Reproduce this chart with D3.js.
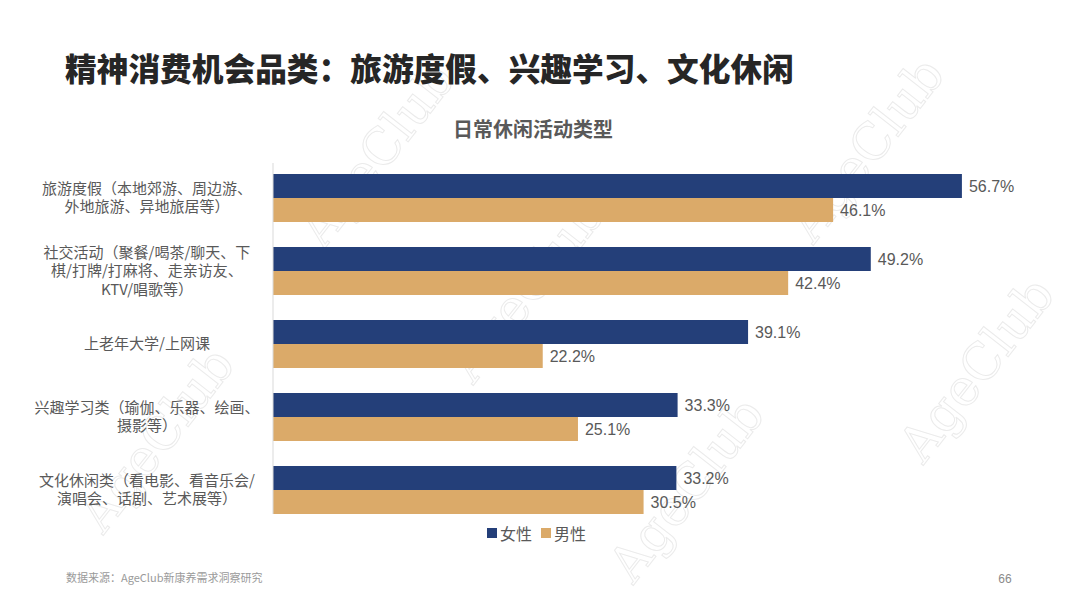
<!DOCTYPE html>
<html>
<head>
<meta charset="utf-8">
<script src="https://cdn.jsdelivr.net/npm/d3@7"></script>
<style>
  body { margin: 0; background: #fff; }
  text { font-family: "Noto Sans CJK SC", "Noto Sans", sans-serif; }
</style>
</head>
<body>
<div id="chart"></div>
<script>
// categories, two lines or three each
var categories = [
  ["旅游度假（本地郊游、周边游、", "外地旅游、异地旅居等）"],
  ["社交活动（聚餐/喝茶/聊天、下", "棋/打牌/打麻将、走亲访友、", "KTV/唱歌等）"],
  ["上老年大学/上网课"],
  ["兴趣学习类（瑜伽、乐器、绘画、", "摄影等）"],
  ["文化休闲类（看电影、看音乐会/", "演唱会、话剧、艺术展等）"]
];
var seriesNames = ["女性", "男性"];
var female = [56.7, 49.2, 39.1, 33.3, 33.2];
var male = [46.1, 42.4, 22.2, 25.1, 30.5];
var colors = ["#243f79", "#dbaa69"];

var width = 1080, height = 606;
var svg = d3.select("#chart").append("svg")
    .attr("width", width)
    .attr("height", height);

// watermark
var marks = [[390, 165], [540, 300], [700, 500], [880, 160], [990, 380], [170, 450]];
svg.append("g").selectAll("text")
    .data(marks).enter().append("text")
    .attr("transform", function(d){ return "translate(" + d[0] + "," + d[1] + ") rotate(-52)"; })
    .attr("text-anchor", "middle")
    .style("font-family", "'DejaVu Serif', serif")
    .style("font-size", "50px")
    .style("fill", "none")
    .style("stroke", "#ebebeb")
    .style("stroke-width", 1)
    .text("AgeClub");

// title
svg.append("text")
    .attr("x", 65).attr("y", 81)
    .style("font-size", "31.7px")
    .style("font-weight", 900)
    .style("fill", "#262626")
    .text("精神消费机会品类：旅游度假、兴趣学习、文化休闲");

svg.append("text")
    .attr("x", 533).attr("y", 137)
    .attr("text-anchor", "middle")
    .style("font-size", "20px")
    .style("font-weight", 700)
    .style("fill", "#595959")
    .text("日常休闲活动类型");

var x = d3.scaleLinear().domain([0, 100]).range([273, 273 + 1215]);
var y = d3.scaleBand().domain(d3.range(categories.length))
    .range([161.5, 526.5]).paddingInner(25 / 73).paddingOuter(12.5 / 73);
var sub = d3.scaleBand().domain([0, 1]).range([0, y.bandwidth()]);

var rows = categories.map(function(c, i){ return {i: i, vals: [female[i], male[i]]}; });

var g = svg.append("g");
var grp = g.selectAll(".grp").data(rows).enter().append("g")
    .attr("transform", function(d){ return "translate(0," + y(d.i) + ")"; });

grp.selectAll("rect").data(function(d){ return d.vals; }).enter().append("rect")
    .attr("x", x(0))
    .attr("y", function(d, j){ return sub(j); })
    .attr("width", function(d){ return x(d) - x(0); })
    .attr("height", sub.bandwidth())
    .style("fill", function(d, j){ return colors[j]; });

grp.selectAll(".val").data(function(d){ return d.vals; }).enter().append("text")
    .attr("x", function(d){ return x(d) + 7; })
    .attr("y", function(d, j){ return sub(j) + sub.bandwidth() / 2 + 5.5; })
    .style("font-size", "16px")
    .style("fill", "#595959")
    .style("font-family", "'Liberation Sans', Arial, sans-serif")
    .text(function(d){ return d.toFixed(1) + "%"; });

// axis line
g.append("line")
    .attr("x1", x(0)).attr("x2", x(0))
    .attr("y1", 163).attr("y2", 514)
    .style("stroke", "#d9d9d9").style("stroke-width", 1);

// category labels
var lh = 18.5;
grp.append("text")
    .attr("text-anchor", "middle")
    .style("font-size", "15px")
    .style("fill", "#595959")
    .each(function(d){
      var lines = categories[d.i];
      var t = d3.select(this);
      var y0 = y.bandwidth() / 2 - (lines.length - 1) * lh / 2 + 5;
      lines.forEach(function(s, k){
        t.append("tspan").attr("x", 147).attr("y", y0 + k * lh).text(s);
      });
    });

// legend
var leg = svg.append("g").attr("transform", "translate(487,533)");
var lx = [0, 54];
seriesNames.forEach(function(n, i){
  leg.append("rect").attr("x", lx[i]).attr("y", -5).attr("width", 10).attr("height", 10)
      .style("fill", colors[i]);
  leg.append("text").attr("x", lx[i] + 13).attr("y", 6.5)
      .style("font-size", "16px").style("fill", "#595959").text(n);
});

// footer
svg.append("text").attr("x", 66).attr("y", 582)
    .style("font-size", "11px").style("fill", "#9a9a9a")
    .text("数据来源：AgeClub新康养需求洞察研究");
svg.append("text").attr("x", 1005).attr("y", 583)
    .attr("text-anchor", "middle")
    .style("font-size", "12px").style("fill", "#8a8a8a")
    .style("font-family", "'Liberation Sans', Arial, sans-serif")
    .text("66");
</script>
</body>
</html>
